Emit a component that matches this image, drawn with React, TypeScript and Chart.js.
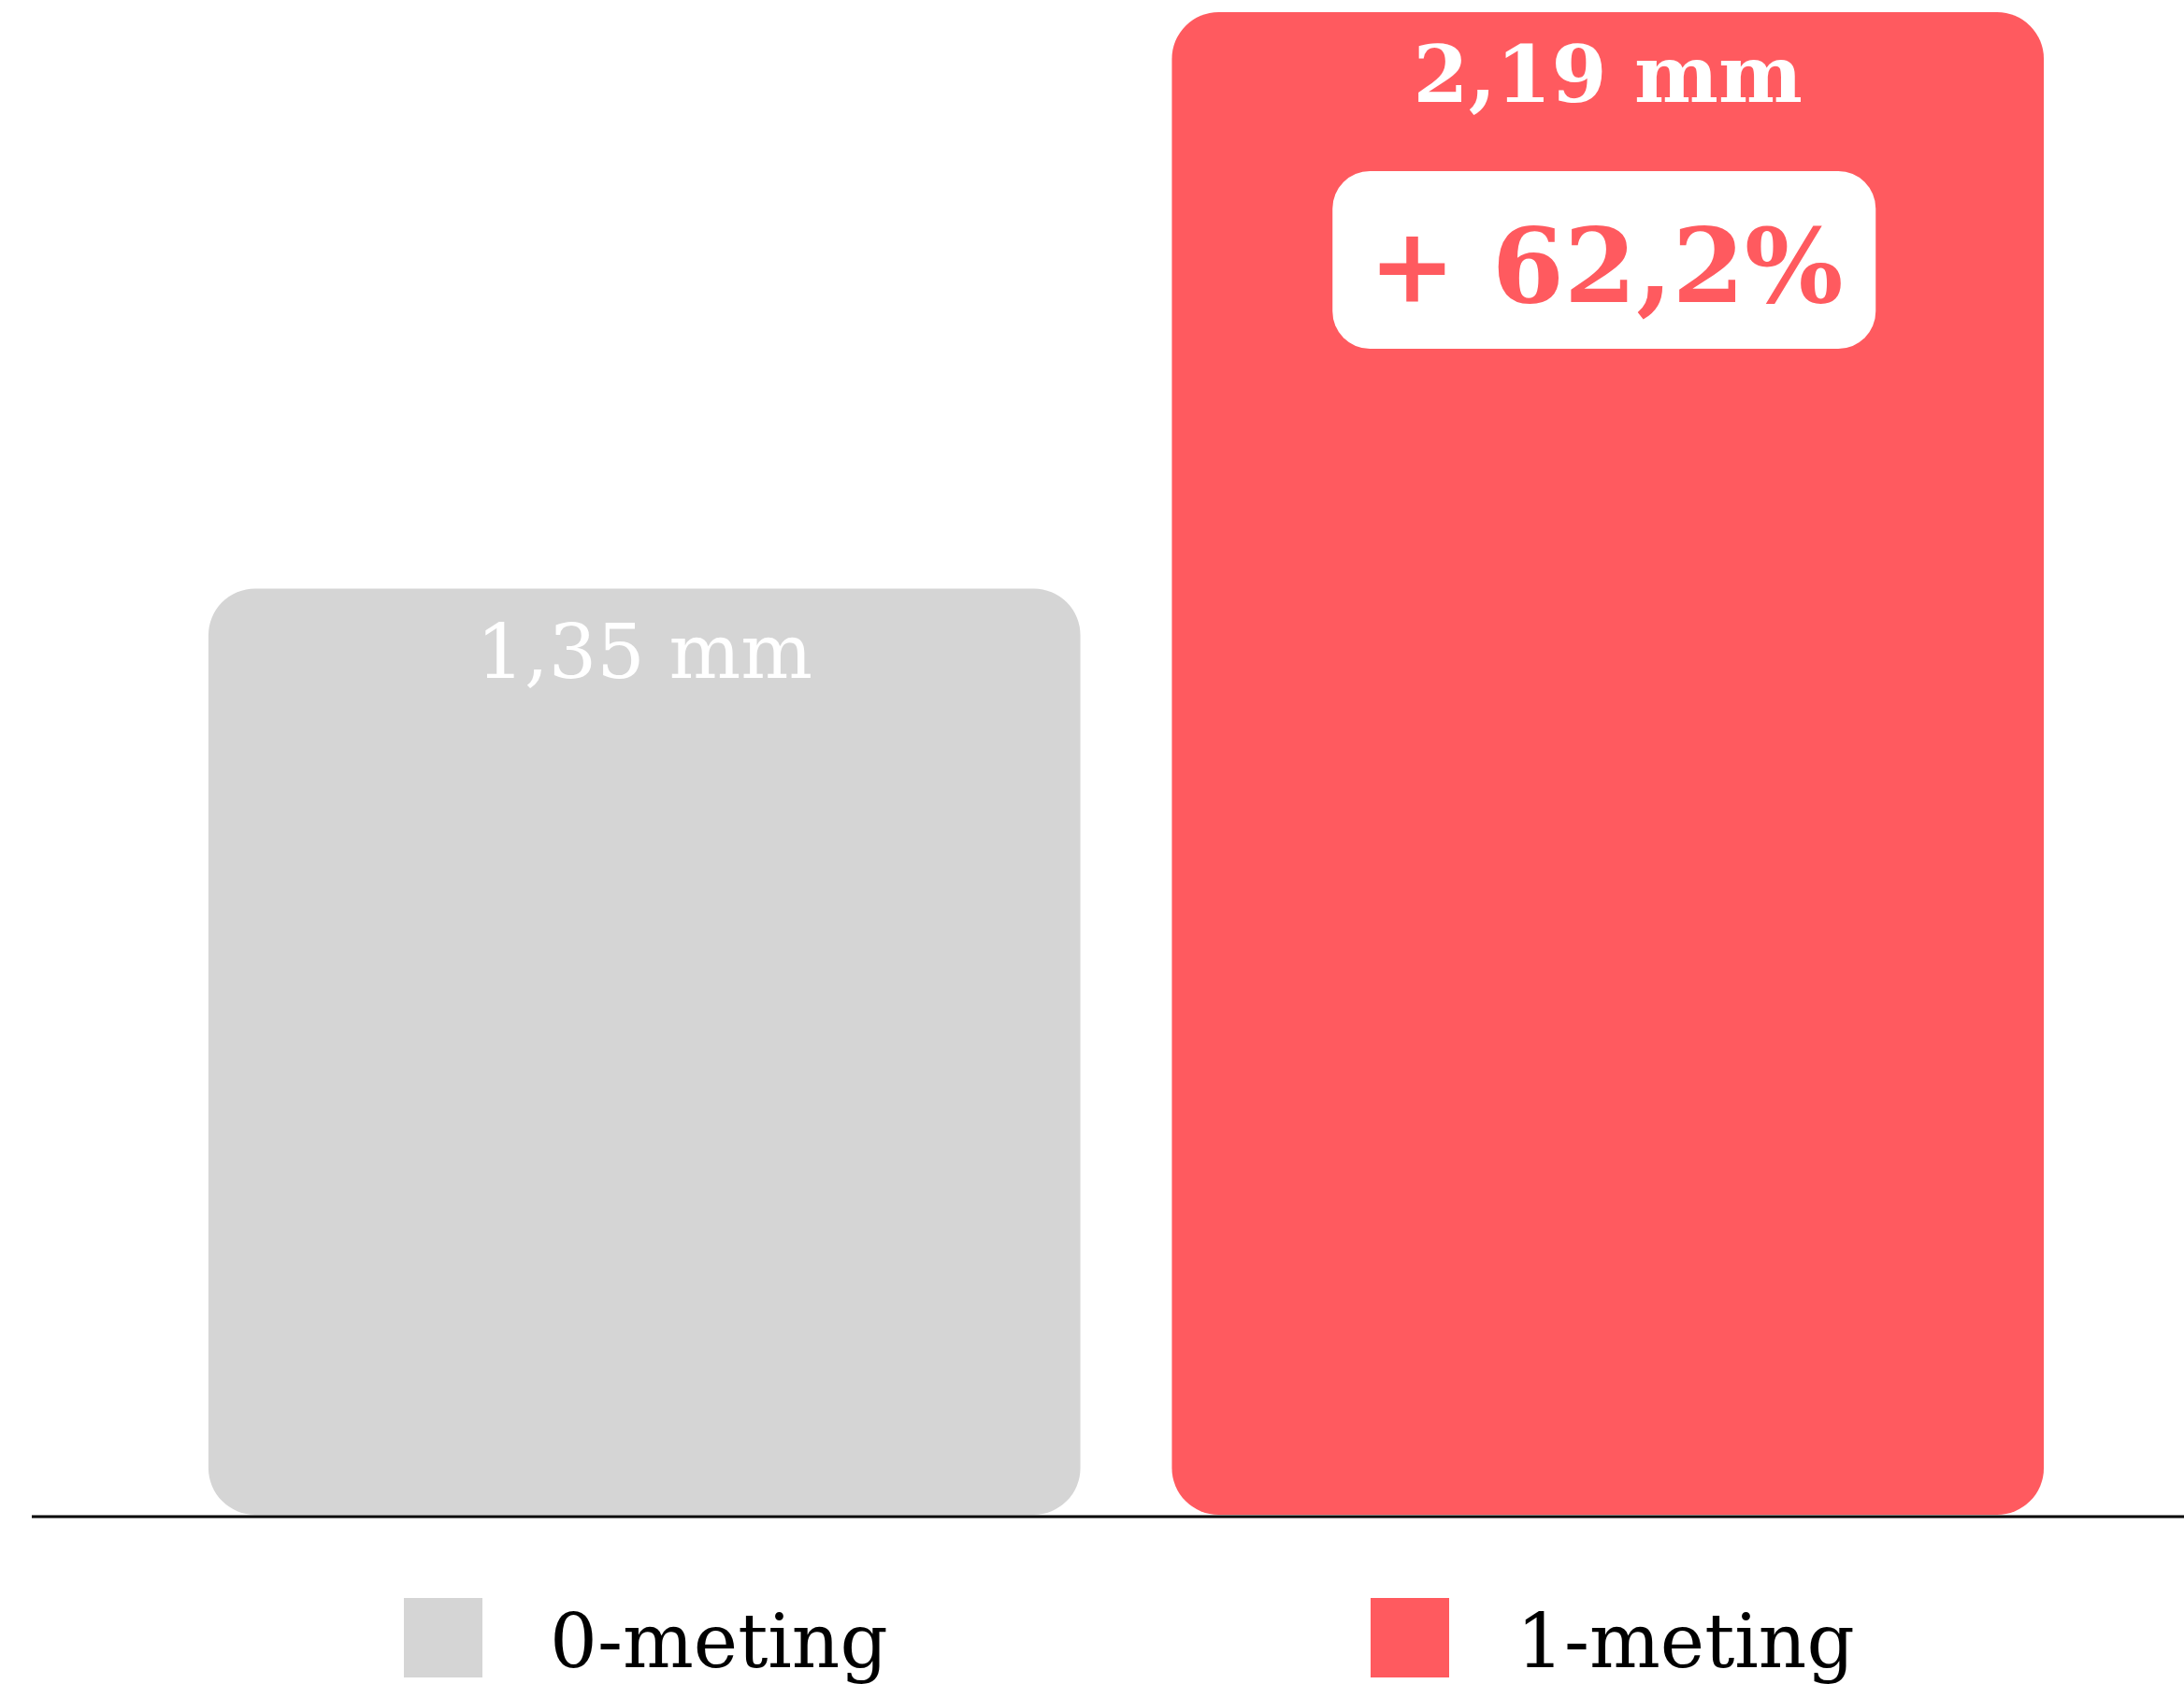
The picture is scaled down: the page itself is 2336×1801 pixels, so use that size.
import React, { useEffect, useRef } from "react";
import { Chart, registerables } from "chart.js";

Chart.register(...registerables);

const categories: string[] = ["0-meting", "1-meting"];
const values: number[] = [1.35, 2.19];
const barColors: string[] = ["#d5d5d5", "#ff5a5f"];
const unit = "mm";

const FONT = '"DejaVu Serif", "Liberation Serif", serif';

function fmt(v: number, d: number) {
  return v.toFixed(d).replace(".", ",");
}

function roundRect(ctx: CanvasRenderingContext2D, x: number, y: number, w: number, h: number, r: number) {
  ctx.beginPath();
  ctx.moveTo(x + r, y);
  ctx.arcTo(x + w, y, x + w, y + h, r);
  ctx.arcTo(x + w, y + h, x, y + h, r);
  ctx.arcTo(x, y + h, x, y, r);
  ctx.arcTo(x, y, x + w, y, r);
  ctx.closePath();
}

const drawPlugin = {
  id: "customDraw",
  afterDatasetsDraw(chart: any) {
    const ctx: CanvasRenderingContext2D = chart.ctx;
    const area = chart.chartArea;
    const meta = chart.getDatasetMeta(0);
    ctx.save();
    // baseline
    ctx.strokeStyle = "#000";
    ctx.lineWidth = 3;
    ctx.beginPath();
    ctx.moveTo(34, area.bottom + 2);
    ctx.lineTo(chart.width, area.bottom + 2);
    ctx.stroke();

    // value labels
    meta.data.forEach((bar: any, i: number) => {
      const { x, y } = bar.getProps(["x", "y"], true);
      const last = i === values.length - 1;
      ctx.fillStyle = "#ffffff";
      ctx.font = (last ? "bold 85px " : "81px ") + FONT;
      ctx.textAlign = "center";
      ctx.textBaseline = "alphabetic";
      ctx.fillText(fmt(values[i], 2) + " " + unit, x, y + 96);
    });

    // percentage change box on last bar
    const lastBar = meta.data[values.length - 1];
    if (lastBar) {
      const { x, y } = lastBar.getProps(["x", "y"], true);
      const pct = (values[values.length - 1] / values[0] - 1) * 100;
      const txt = "+ " + fmt(pct, 1) + "%";
      ctx.font = "bold 111px " + FONT;
      const bw = 581;
      const bx = x - bw / 2 - 4;
      const by = y + 170;
      const bh = 190;
      ctx.fillStyle = "#ffffff";
      roundRect(ctx, bx, by, bw, bh, 40);
      ctx.fill();
      ctx.fillStyle = barColors[values.length - 1];
      ctx.textAlign = "center";
      ctx.textBaseline = "alphabetic";
      ctx.fillText(txt, bx + bw / 2 + 2, by + 140);
    }

    // legend
    const boxXs = [432, 1466];
    categories.forEach((c, i) => {
      const bx = boxXs[i];
      ctx.fillStyle = barColors[i];
      ctx.fillRect(bx, 1709, 84, 85);
      ctx.fillStyle = "#000000";
      ctx.font = "80px " + FONT;
      ctx.textAlign = "left";
      ctx.textBaseline = "alphabetic";
      ctx.fillText(c, bx + 156, 1783);
    });
    ctx.restore();
  },
};

export default function App() {
  const ref = useRef<HTMLCanvasElement | null>(null);
  useEffect(() => {
    document.body.style.margin = "0";
    const canvas = ref.current;
    if (!canvas) return;
    const chart = new Chart(canvas, {
      type: "bar",
      data: {
        labels: categories,
        datasets: [
          {
            label: "meting",
            data: values,
            backgroundColor: barColors,
            borderWidth: 0,
            borderRadius: 50,
            borderSkipped: false,
            barPercentage: 0.905,
            categoryPercentage: 1,
          },
        ],
      },
      options: {
        responsive: false,
        animation: false,
        devicePixelRatio: 1,
        layout: { padding: { left: 174, right: 101, top: 13, bottom: 181 } },
        plugins: {
          legend: { display: false },
          tooltip: { enabled: false },
        },
        scales: {
          x: { display: false },
          y: { display: false, min: 0, max: 2.19 },
        },
      },
      plugins: [drawPlugin],
    });
    return () => chart.destroy();
  }, []);
  return (
    <div style={{ position: "fixed", left: 0, top: 0, width: 2336, height: 1801, background: "#fff" }}>
      <canvas ref={ref} width={2336} height={1801} style={{ width: 2336, height: 1801, display: "block" }} />
    </div>
  );
}
